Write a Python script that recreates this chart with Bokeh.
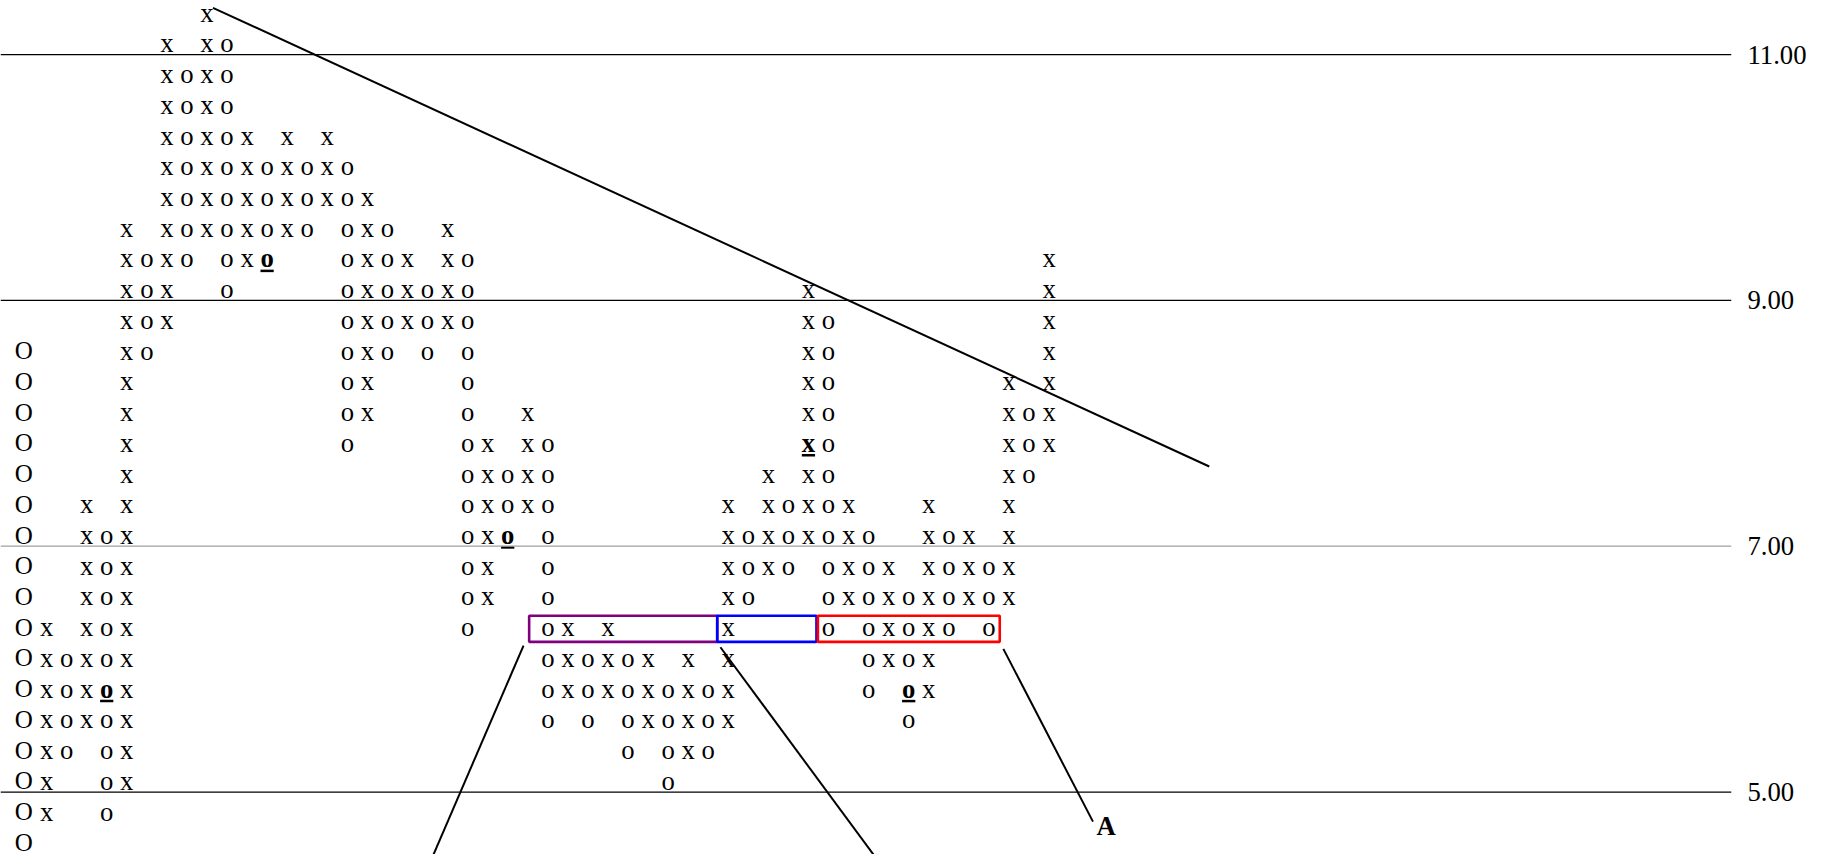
from bokeh.plotting import figure
from bokeh.models import (ColumnDataSource, Range1d, Span, LinearAxis, FixedTicker,
                          NumeralTickFormatter, Label)
from bokeh.core.properties import value
from bokeh.embed import file_html
from bokeh.resources import INLINE

# ---------------- data ----------------
BOX_SIZE = 0.25
# one entry per point-and-figure column (column 0 is the large "O" column)
col_symbol = ["O", "x", "o", "x", "o", "x", "o", "x", "o", "x", "o", "x", "o",
              "x", "o", "x", "o", "x", "o", "x", "o", "x", "o", "x", "o", "x",
              "o", "x", "o", "x", "o", "x", "o", "x", "o", "x", "o", "x", "o",
              "x", "o", "x", "o", "x", "o", "x", "o", "x", "o", "x", "o", "x"]
col_top = [8.50, 6.25, 6.00, 7.25, 7.00, 9.50, 9.25, 11.00, 10.75, 11.25, 11.00,
           10.25, 10.00, 10.25, 10.00, 10.25, 10.00, 9.75, 9.50, 9.25, 9.00,
           9.50, 9.25, 7.75, 7.50, 8.00, 7.75, 6.25, 6.00, 6.25, 6.00, 6.00,
           5.75, 6.00, 5.75, 7.25, 7.00, 7.50, 7.25, 9.00, 8.75, 7.25, 7.00,
           6.75, 6.50, 7.25, 7.00, 7.00, 6.75, 8.25, 8.00, 9.25]
col_bottom = [4.50, 4.75, 5.25, 5.50, 4.75, 5.00, 8.50, 8.75, 9.25, 9.50, 9.00,
              9.25, 9.25, 9.50, 9.50, 9.75, 7.75, 8.00, 8.50, 8.75, 8.50, 8.75,
              6.25, 6.50, 7.00, 7.25, 5.50, 5.75, 5.50, 5.75, 5.25, 5.50, 5.00,
              5.25, 5.25, 5.50, 6.50, 6.75, 6.75, 7.00, 6.25, 6.50, 5.75, 6.00,
              5.50, 5.75, 6.25, 6.50, 6.25, 6.50, 7.50, 7.75]
# bold, underlined boxes
bold_col = [4, 12, 24, 39, 44]
bold_value = [5.75, 9.25, 7.00, 7.75, 5.75]
# price scale
tick_values = [5, 7, 9, 11]
tick_colors = ["black", "#a0a0a0", "black", "black"]
# highlighted boxes on the 6.25 row: (first column, last column, colour)
box_row = 6.25
box_cols = [(26, 34), (35, 39), (40, 48)]
box_colors = ["#800080", "#0000ff", "#ff0000"]

# ---------------- annotation geometry (column / price units) ----------------
TREND = ([9.30, 58.99], [11.3805, 7.6485])
POINTERS = dict(x0=[24.79, 34.61, 48.72], y0=[6.192, 6.178, 6.165],
                x1=[20.19, 42.43, 53.19], y1=[4.45, 4.45, 4.759])
LABEL_A = (53.37, 4.724)
BOX_EDGES = [(25.07, 34.45), (34.45, 39.40), (39.47, 48.54)]
BOX_TOP, BOX_BOTTOM = 0.184, -0.028
TEXT_LIFT = 0.091
FONT = "Liberation Serif"

# ---------------- cells ----------------
bold_set = set(zip(bold_col, bold_value))
reg = dict(x=[], y=[], s=[])
big = dict(x=[], y=[], s=[])
bld = dict(x=[], y=[], s=[])
for k, (sym, top, bot) in enumerate(zip(col_symbol, col_top, col_bottom)):
    n = int(round((top - bot) / BOX_SIZE)) + 1
    for i in range(n):
        v = top - i * BOX_SIZE
        tgt = big if sym == "O" else (bld if (k, v) in bold_set else reg)
        tgt["x"].append(k - (0.14 if sym == "O" else 0))
        tgt["y"].append(v + TEXT_LIFT)
        tgt["s"].append(sym)

p = figure(width=1812, height=854,
           x_range=Range1d(-1.2968, 85.037), y_range=Range1d(4.4918, 11.4399),
           output_backend="svg", toolbar_location=None,
           x_axis_location=None, y_axis_location=None,
           min_border_left=0, min_border_top=0, min_border_bottom=0,
           min_border_right=81, outline_line_color=None,
           background_fill_color="white", border_fill_color="white")
p.grid.visible = False

for t, c in zip(tick_values, tick_colors):
    p.add_layout(Span(location=t, dimension="width", line_color=c, line_width=1.3))

ax = LinearAxis(ticker=FixedTicker(ticks=tick_values),
                formatter=NumeralTickFormatter(format="0.00"),
                axis_line_color=None, major_tick_line_color=None,
                minor_tick_line_color=None, major_tick_out=0, major_tick_in=0,
                major_label_standoff=16, major_label_text_font=FONT,
                major_label_text_font_size="26.7px", major_label_text_color="black")
p.add_layout(ax, "right")

common = dict(text_font=value(FONT), text_align="center",
              text_baseline="alphabetic", text_color="black")
p.text(x="x", y="y", text="s", source=ColumnDataSource(reg),
       text_font_size="26.7px", **common)
p.text(x="x", y="y", text="s", source=ColumnDataSource(big),
       text_font_size="25px", **common)
p.text(x="x", y="y", text="s", source=ColumnDataSource(bld),
       text_font_size="26.7px", text_font_style="bold", **common)
p.segment(x0=[k - 0.33 for k in bold_col], x1=[k + 0.33 for k in bold_col],
          y0=[v - 0.01 for v in bold_value], y1=[v - 0.01 for v in bold_value],
          line_color="black", line_width=2.5)

p.quad(left=[e[0] for e in BOX_EDGES], right=[e[1] for e in BOX_EDGES],
       top=[box_row + BOX_TOP] * len(box_cols),
       bottom=[box_row + BOX_BOTTOM] * len(box_cols),
       fill_color=None, line_color=box_colors, line_width=2.6)

p.line(x=TREND[0], y=TREND[1], line_color="black", line_width=2)
p.segment(line_color="black", line_width=2, **POINTERS)
p.add_layout(Label(x=LABEL_A[0], y=LABEL_A[1], text="A", text_font=FONT,
                   text_font_size="26.7px", text_font_style="bold",
                   text_align="left", text_baseline="alphabetic",
                   text_color="black"))

open("out.html", "w").write(file_html(p, INLINE))
